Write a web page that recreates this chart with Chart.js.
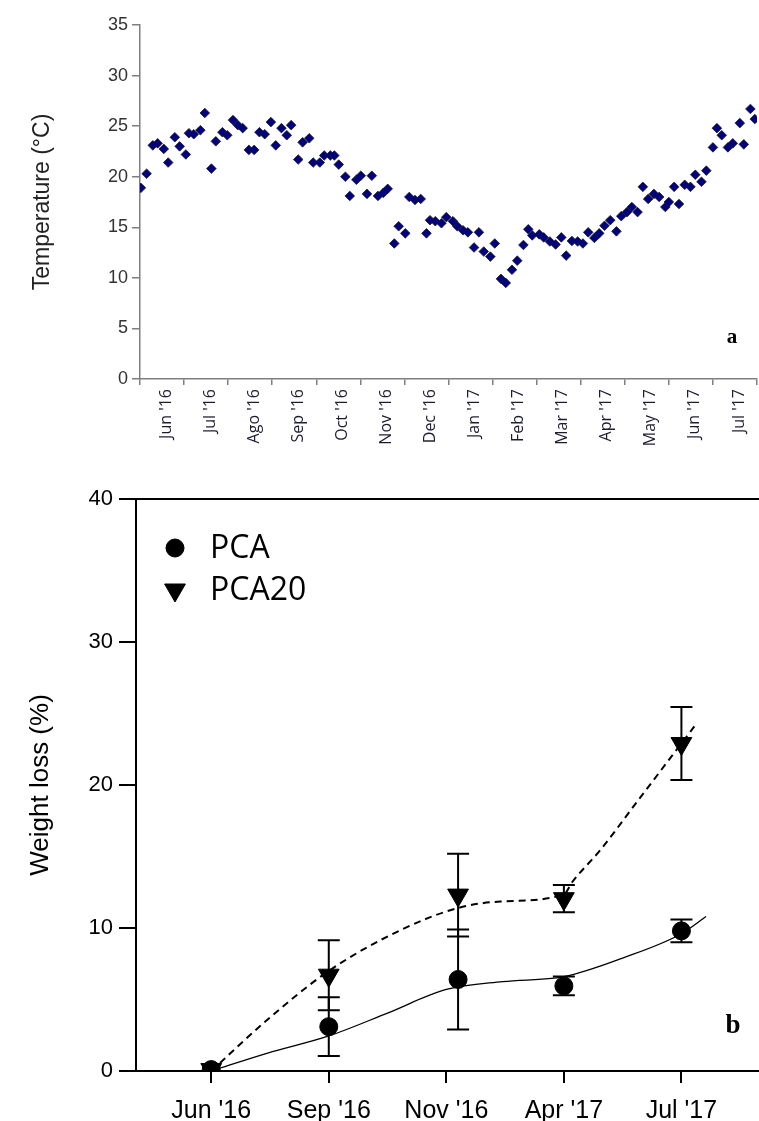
<!DOCTYPE html>
<html>
<head>
<meta charset="utf-8">
<script src="https://cdn.jsdelivr.net/npm/chart.js@4.4.0/dist/chart.umd.min.js"></script>
<style>
  body { margin: 0; background: #fff; width: 759px; height: 1121px; overflow: hidden; }
  canvas { display: block; }
</style>
</head>
<body>
<canvas id="tempChart" width="759" height="470"></canvas>
<canvas id="lossChart" width="759" height="651"></canvas>
<script>
// Panel a: temperature, x = months since 1 Jun 2016
const tempMonth = [
  0.02, 0.15, 0.29, 0.40, 0.54, 0.64, 0.79, 0.90, 1.04, 1.11,
  1.22, 1.37, 1.47, 1.62, 1.72, 1.87, 1.98, 2.11, 2.22, 2.33,
  2.47, 2.59, 2.71, 2.83, 2.97, 3.08, 3.21, 3.33, 3.43, 3.59,
  3.69, 3.84, 3.93, 4.08, 4.18, 4.32, 4.41, 4.51, 4.66, 4.76,
  4.91, 5.01, 5.15, 5.26, 5.40, 5.52, 5.62, 5.77, 5.87, 6.02,
  6.11, 6.24, 6.37, 6.50, 6.58, 6.70, 6.84, 6.95, 7.10, 7.20,
  7.33, 7.44, 7.58, 7.69, 7.80, 7.95, 8.05, 8.19, 8.30, 8.44,
  8.56, 8.70, 8.81, 8.90, 9.06, 9.16, 9.30, 9.43, 9.56, 9.67,
  9.80, 9.93, 10.05, 10.17, 10.31, 10.42, 10.54, 10.67, 10.81, 10.92,
  11.05, 11.16, 11.29, 11.41, 11.53, 11.66, 11.78, 11.92, 12.00, 12.12,
  12.23, 12.36, 12.49, 12.60, 12.74, 12.85, 13.00, 13.09, 13.20, 13.34,
  13.45, 13.61, 13.70, 13.85, 13.95
];
const tempValue = [
  18.9, 20.3, 23.1, 23.3, 22.75, 21.4, 23.9, 23.0, 22.2, 24.3,
  24.2, 24.6, 26.3, 20.8, 23.5, 24.4, 24.1, 25.6, 25.1, 24.8,
  22.65, 22.65, 24.4, 24.2, 25.4, 23.1, 24.8, 24.1, 25.1, 21.7,
  23.4, 23.8, 21.4, 21.4, 22.1, 22.1, 22.1, 21.2, 20.0, 18.1,
  19.7, 20.1, 18.3, 20.1, 18.1, 18.4, 18.8, 13.4, 15.1, 14.4,
  18.0, 17.7, 17.8, 14.4, 15.7, 15.6, 15.4, 16.0, 15.6, 15.1,
  14.7, 14.5, 13.0, 14.5, 12.6, 12.1, 13.4, 9.9, 9.5, 10.8,
  11.7, 13.25, 14.8, 14.2, 14.3, 14.0, 13.6, 13.3, 14.0, 12.2,
  13.65, 13.6, 13.4, 14.5, 13.95, 14.4, 15.15, 15.7, 14.6, 16.1,
  16.5, 17.0, 16.5, 19.0, 17.8, 18.3, 18.0, 17.0, 17.5, 19.0,
  17.3, 19.2, 19.0, 20.2, 19.5, 20.6, 22.9, 24.8, 24.1, 22.9,
  23.3, 25.3, 23.2, 26.7, 25.7
];
const monthLabels = ["Jun '16", "Jul '16", "Ago '16", "Sep '16", "Oct '16", "Nov '16", "Dec '16",
  "Jan '17", "Feb '17", "Mar '17", "Apr '17", "May '17", "Jun '17", "Jul '17"];
const tempTicks = [0, 5, 10, 15, 20, 25, 30, 35];

// Panel b: weight loss
const sampleLabels = ["Jun '16", "Sep '16", "Nov '16", "Apr '17", "Jul '17"];
const samplePos = [0, 1, 2.1, 3, 4];
const pcaMean = [0.1, 3.1, 6.4, 5.95, 9.8];
const pcaErr = [0, 2.05, 3.5, 0.65, 0.8];
const pca20Mean = [0.1, 6.7, 12.3, 12.05, 22.9];
const pca20Err = [0, 2.45, 2.9, 0.95, 2.55];
// fitted curves
const pcaFitX = [0, 0.48, 1, 1.5, 2, 2.48, 3, 3.5, 4, 4.21];
const pcaFitY = [0, 1.25, 2.45, 4.05, 5.7, 6.25, 6.6, 7.9, 9.6, 10.8];
const pca20FitX = [0, 0.48, 1, 1.61, 2.1, 2.46, 3, 3.07, 3.31, 3.62, 3.99, 4.11];
const pca20FitY = [0, 3.6, 7.0, 9.85, 11.4, 11.85, 12.35, 13.2, 15.45, 18.8, 22.8, 24.1];

const pts = (xs, ys) => xs.map((x, i) => ({x: x, y: ys[i]}));

// small text labels "a" / "b" in the corner of each panel
const panelLetter = {
  id: 'panelLetter',
  afterDraw(chart, args, opts) {
    const ctx = chart.ctx;
    ctx.save();
    ctx.font = opts.font;
    ctx.fillStyle = '#000';
    ctx.textAlign = 'center';
    ctx.textBaseline = 'middle';
    ctx.fillText(opts.text, chart.chartArea.right - opts.dx, chart.chartArea.bottom - opts.dy);
    ctx.restore();
  }
};

new Chart(document.getElementById('tempChart'), {
  type: 'scatter',
  data: {
    datasets: [{
      data: pts(tempMonth, tempValue),
      pointStyle: 'rectRot',
      pointRadius: 4.8,
      backgroundColor: '#000080',
      borderColor: '#1a1a1a',
      borderWidth: 0.8
    }]
  },
  options: {
    responsive: false,
    animation: false,
    layout: {autoPadding: false, padding: {top: 25, right: 2, left: 0, bottom: 0}},
    plugins: {
      legend: {display: false},
      tooltip: {enabled: false},
      panelLetter: {text: 'a', font: 'bold 21px "Liberation Serif"', dx: 25, dy: 41}
    },
    scales: {
      x: {
        type: 'linear', min: 0, max: 14,
        afterBuildTicks: s => { s.ticks = monthLabels.map((l, i) => ({value: i + 0.5})); },
        afterFit: s => { s.height = 91; },
        grid: {offset: true, drawOnChartArea: false, tickLength: 6, color: '#7f7f7f', lineWidth: 1.5},
        border: {color: '#7f7f7f', width: 1.5},
        ticks: {
          callback: (v, i) => monthLabels[i],
          minRotation: 90, maxRotation: 90, autoSkip: false,
          labelOffset: 4, padding: 4,
          color: '#1c1c30', font: {family: '"Open Sans"', size: 16}
        }
      },
      y: {
        min: 0, max: 35,
        afterBuildTicks: s => { s.ticks = tempTicks.map(v => ({value: v})); },
        afterFit: s => { s.width = 140; },
        grid: {drawOnChartArea: false, tickLength: 8, color: '#7f7f7f', lineWidth: 1.5},
        border: {color: '#7f7f7f', width: 1.5},
        ticks: {color: '#333', padding: 4, font: {family: '"Liberation Sans"', size: 18}},
        title: {
          display: true, text: 'Temperature (°C)', color: '#222',
          font: {family: '"Liberation Sans"', size: 23}, padding: {top: 29, bottom: 0}
        }
      }
    }
  },
  plugins: [panelLetter]
});

// error bars drawn through the chart scales
const errorBars = {
  id: 'errorBars',
  afterDatasetsDraw(chart) {
    const ctx = chart.ctx, xs = chart.scales.x, ys = chart.scales.y;
    ctx.save();
    ctx.strokeStyle = '#000';
    ctx.lineWidth = 2;
    [[pcaMean, pcaErr], [pca20Mean, pca20Err]].forEach(([mean, err]) => {
      mean.forEach((m, i) => {
        if (!err[i]) return;
        const x = xs.getPixelForValue(samplePos[i]);
        const hi = ys.getPixelForValue(m + err[i]);
        const lo = ys.getPixelForValue(m - err[i]);
        ctx.beginPath();
        ctx.moveTo(x, hi); ctx.lineTo(x, lo);
        ctx.moveTo(x - 11, hi); ctx.lineTo(x + 11, hi);
        ctx.moveTo(x - 11, lo); ctx.lineTo(x + 11, lo);
        ctx.stroke();
      });
    });
    ctx.restore();
  }
};

// legend in the upper-left corner of the plot
const cornerLegend = {
  id: 'cornerLegend',
  afterDraw(chart) {
    const ctx = chart.ctx, area = chart.chartArea;
    const items = [
      {text: 'PCA', style: 'circle', rotation: 0, radius: 9},
      {text: 'PCA20', style: 'triangle', rotation: 180, radius: 12}
    ];
    ctx.save();
    ctx.fillStyle = '#000';
    ctx.strokeStyle = '#000';
    ctx.font = '32px "Open Sans"';
    ctx.textBaseline = 'middle';
    items.forEach((it, i) => {
      const y = area.top + 49 + i * 42;
      Chart.helpers.drawPoint(ctx, {pointStyle: it.style, rotation: it.rotation, radius: it.radius, borderWidth: 1}, area.left + 39, y);
      ctx.fillStyle = '#000';
      ctx.fillText(it.text, area.left + 74, y + 1);
    });
    ctx.restore();
  }
};

new Chart(document.getElementById('lossChart'), {
  type: 'line',
  data: {
    datasets: [
      {
        label: 'PCA', data: pts(samplePos, pcaMean), showLine: false,
        pointStyle: 'circle', pointRadius: 9, backgroundColor: '#000', borderColor: '#000'
      },
      {
        label: 'PCA20', data: pts(samplePos, pca20Mean), showLine: false,
        pointStyle: 'triangle', pointRotation: 180, pointRadius: 12,
        backgroundColor: '#000', borderColor: '#000'
      },
      {
        label: 'PCA fit', data: pts(pcaFitX, pcaFitY), pointRadius: 0,
        borderColor: '#000', borderWidth: 1.3, cubicInterpolationMode: 'monotone'
      },
      {
        label: 'PCA20 fit', data: pts(pca20FitX, pca20FitY), pointRadius: 0,
        borderColor: '#000', borderWidth: 2, borderDash: [7, 5], cubicInterpolationMode: 'monotone'
      }
    ]
  },
  options: {
    responsive: false,
    animation: false,
    layout: {autoPadding: false, padding: {top: 29, right: 0, left: 0, bottom: 0}},
    plugins: {
      legend: {display: false},
      tooltip: {enabled: false},
      panelLetter: {text: 'b', font: 'bold 27px "Liberation Serif"', dx: 26, dy: 45}
    },
    scales: {
      x: {
        type: 'linear', min: -0.64, max: 4.66,
        afterBuildTicks: s => { s.ticks = samplePos.map((p, i) => ({value: i})); },
        afterFit: s => { s.height = 50; },
        grid: {drawOnChartArea: false, tickLength: 12, color: '#000', lineWidth: 2},
        border: {color: '#000', width: 2},
        ticks: {
          callback: (v, i) => sampleLabels[i], autoSkip: false, maxRotation: 0,
          padding: 13, color: '#000', font: {family: '"Liberation Sans"', size: 25}
        }
      },
      y: {
        min: 0, max: 40,
        afterBuildTicks: s => { s.ticks = [0, 10, 20, 30, 40].map(v => ({value: v})); },
        afterFit: s => { s.width = 136; },
        grid: {
          color: c => (c.tick && c.tick.value === 40 ? '#000' : 'rgba(0,0,0,0)'),
          tickColor: '#000', tickLength: 17, lineWidth: 2
        },
        border: {color: '#000', width: 2},
        ticks: {color: '#000', padding: 6, font: {family: '"Liberation Sans"', size: 22}},
        title: {
          display: true, text: 'Weight loss (%)', color: '#000',
          font: {family: '"Liberation Sans"', size: 26}, padding: {top: 25, bottom: 0}
        }
      }
    }
  },
  plugins: [errorBars, cornerLegend, panelLetter]
});
</script>
</body>
</html>
